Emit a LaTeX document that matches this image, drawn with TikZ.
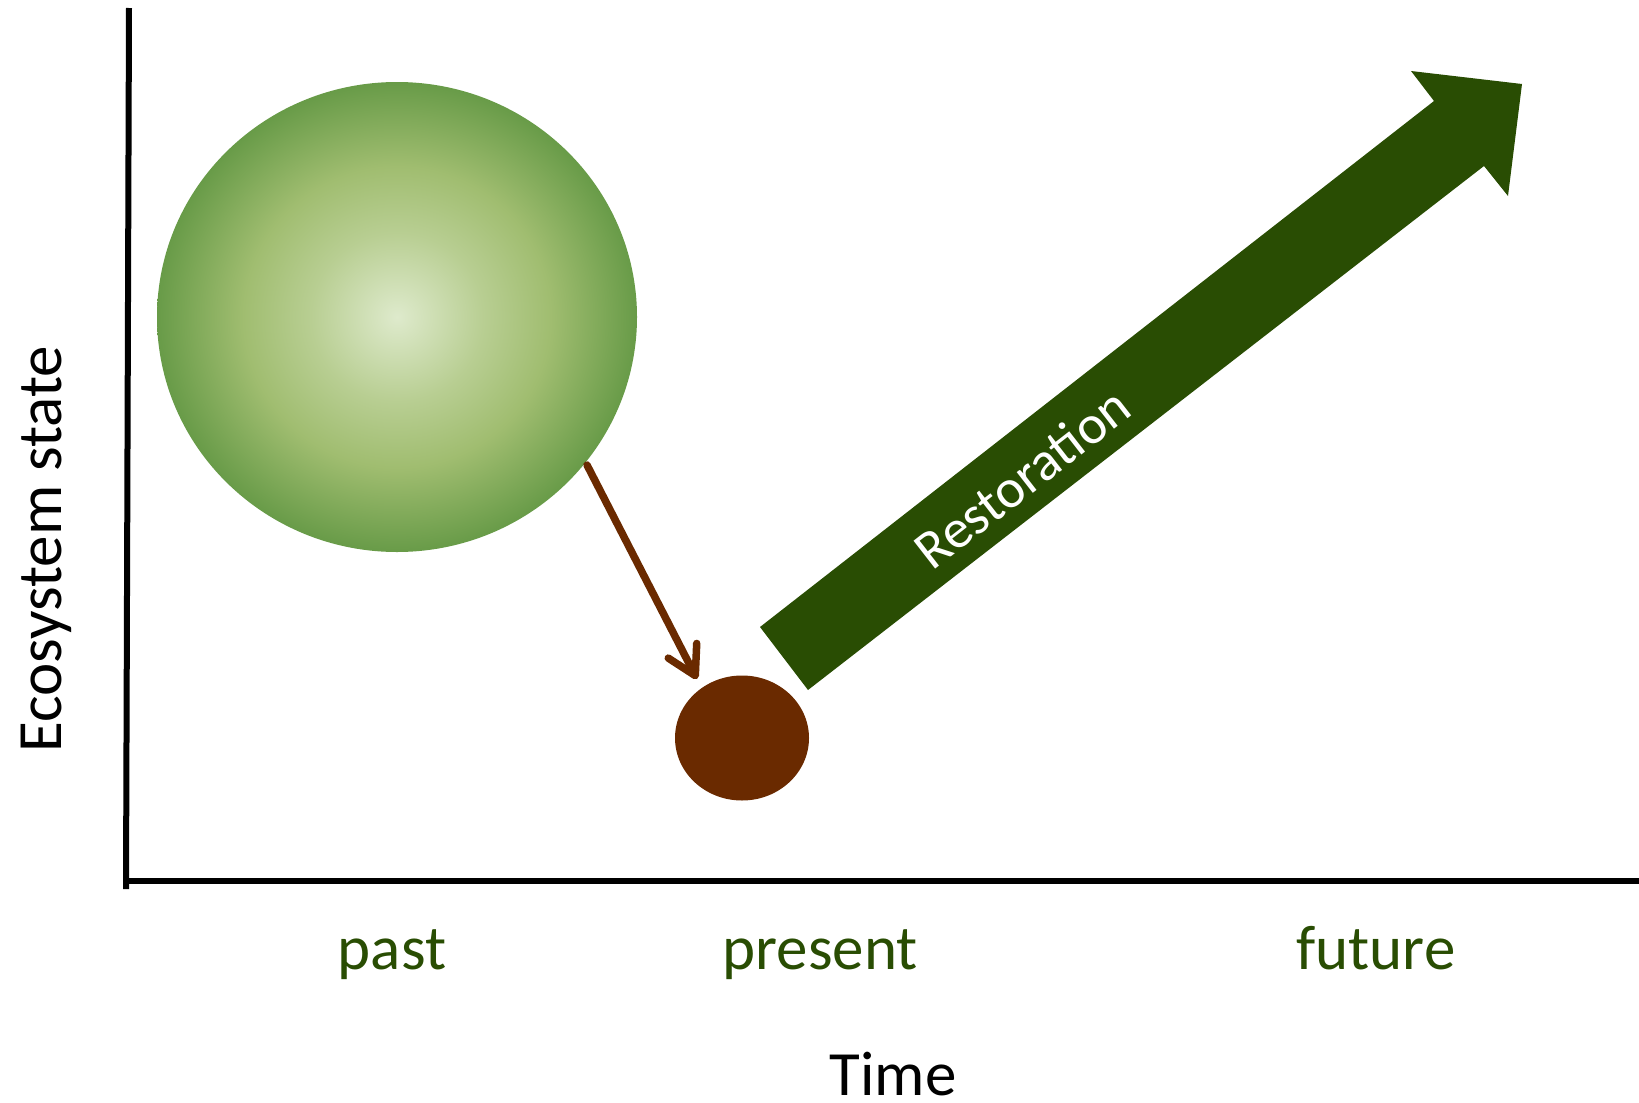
\documentclass[tikz,border=0pt]{standalone}
\usepackage{fontspec}
\setmainfont{Carlito}
\usetikzlibrary{arrows.meta,shapes.geometric}
\definecolor{dkgreen}{RGB}{41,77,3}
\definecolor{dkbrown}{RGB}{106,42,0}
\definecolor{gA}{RGB}{222,234,204}
\definecolor{gB}{RGB}{184,206,146}
\definecolor{gC}{RGB}{160,189,112}
\definecolor{gD}{RGB}{104,155,72}
\pgfdeclareradialshading{sphere}{\pgfpoint{0bp}{0bp}}{color(0bp)=(gA); color(9bp)=(gB); color(16bp)=(gC); color(25bp)=(gD); color(50bp)=(gD)}
\tikzset{
  axisline/.style={line width=6pt, black},
  timelabel/.style={text=dkgreen, anchor=base, font=\fontsize{63}{70}\selectfont, inner sep=0pt},
  axislabel/.style={text=black, anchor=base, font=\fontsize{63}{70}\selectfont, inner sep=0pt},
  degrade/.style={line width=7.5pt, dkbrown, line cap=round, -{Straight Barb[length=28pt, width=32pt, round]}},
}
\begin{document}
\begin{tikzpicture}[x=1pt,y=-1pt]
\useasboundingbox (0,0) rectangle (1639,1103);
% axes
\coordinate (ytop) at (129,8);
\coordinate (ybot) at (126,889);
\coordinate (xl) at (124,881);
\coordinate (xr) at (1639,881);
\draw[axisline] (ytop) -- (ybot);
\draw[axisline] (xl) -- (xr);
% states
\node (pastball) [ellipse, inner sep=0pt, minimum width=480pt, minimum height=470pt, shading=sphere] at (397,317) {};
\node (presball) [ellipse, inner sep=0pt, minimum width=134pt, minimum height=125pt, fill=dkbrown] at (742,738) {};
% degradation arrow
\coordinate (bs) at (587,465);
\coordinate (bt) at (697,679);
\draw[degrade] (bs) -- (bt);
% restoration arrow
\fill[dkgreen] (760,627) -- (808,690) -- (1484,166) -- (1508,196) -- (1522,84) -- (1411,71) -- (1434,101) -- cycle;
\node (rest) [rotate=37.87, text=white, font=\fontsize{55}{60}\selectfont, inner sep=0pt] at (1022,478) {Restoration};
% labels
\node (past) [timelabel] at (392,969) {past};
\node (present) [timelabel] at (820,969) {present};
\node (future) [timelabel] at (1376,969) {future};
\node (time) [axislabel] at (893,1095) {Time};
\node (state) [axislabel, rotate=90] at (61,549) {Ecosystem state};
\end{tikzpicture}
\end{document}
